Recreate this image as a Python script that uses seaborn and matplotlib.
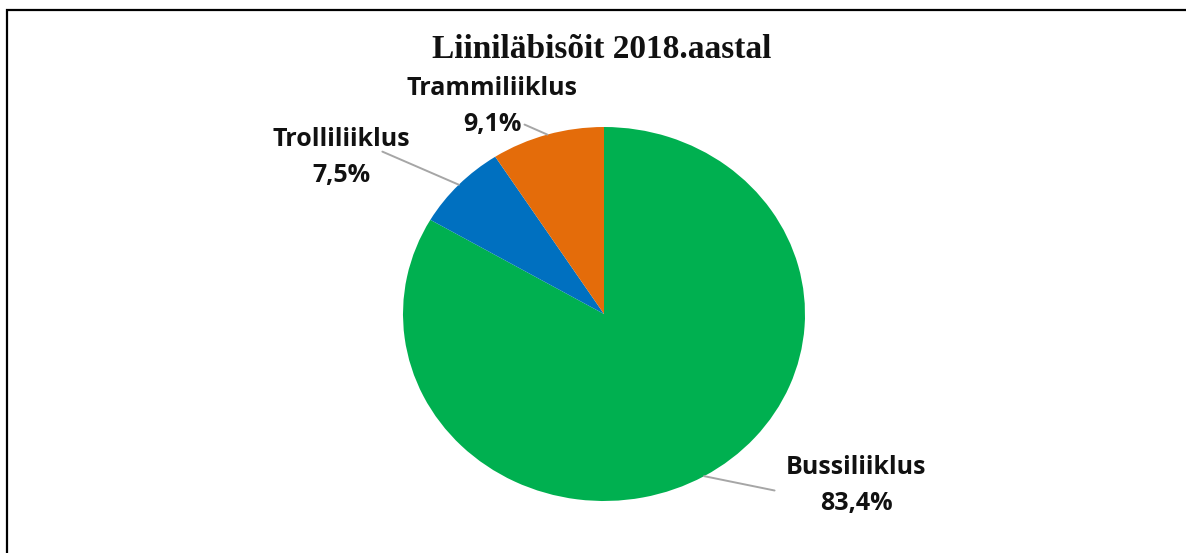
import numpy as np
import seaborn as sns
import matplotlib.pyplot as plt
from matplotlib.patches import Rectangle

# Data
categories = ["Bussiliiklus", "Trolliliiklus", "Trammiliiklus"]
shares = [83.4, 7.5, 9.1]
colors = ["#00B050", "#0070C0", "#E46C0A"]
title = "Liiniläbisõit 2018.aastal"

# label placement (axes data units, pie radius = 1) and leader start on label box
label_pos = {"Bussiliiklus": (1.254, -0.918),
             "Trolliliiklus": (-1.308, 0.836),
             "Trammiliiklus": (-0.557, 1.11)}
label_rel = {"Bussiliiklus": (-0.08, 0.42),
             "Trolliliiklus": (0.8, 0.6),
             "Trammiliiklus": (0.69, 0.2)}

sns.set_theme(style="white")

fig = plt.figure(figsize=(11.86, 5.53), dpi=100)
fig.patch.set_facecolor("white")
# the source picture is squashed a little vertically, so the pie is an ellipse
ax = fig.add_axes([403 / 1186, 52 / 553, 402 / 1186, 374 / 553])

wedges, _ = ax.pie(shares, colors=sns.color_palette(colors), startangle=90,
                   counterclock=False, radius=1,
                   wedgeprops=dict(linewidth=0))
ax.set_xlim(-1, 1)
ax.set_ylim(-1, 1)
ax.set_aspect("auto")
ax.axis("off")

for w, name, val in zip(wedges, categories, shares):
    mid = np.deg2rad((w.theta1 + w.theta2) / 2)
    edge = (np.cos(mid), np.sin(mid))
    txt = f"{name}\n{val:.1f}%".replace(".", ",")
    ax.annotate(txt, xy=edge, xytext=label_pos[name],
                ha="center", va="center", fontsize=18, fontweight="bold",
                family="Open Sans", color="#111111", linespacing=1.55,
                annotation_clip=False,
                arrowprops=dict(arrowstyle="-", color="#A6A6A6", lw=1.4,
                                shrinkA=0, shrinkB=0, patchA=None,
                                relpos=label_rel[name]))

fig.text(0.507, 0.91, title, ha="center", va="center", fontsize=24,
         fontweight="bold", family="Liberation Serif", color="#111111")

# outer frame
fig.patches.append(Rectangle((7 / 1186, -0.1), 1.2, 543 / 553 + 0.1,
                             transform=fig.transFigure, fill=False,
                             edgecolor="black", lw=1.6))

fig.savefig("out.png", dpi=100)
